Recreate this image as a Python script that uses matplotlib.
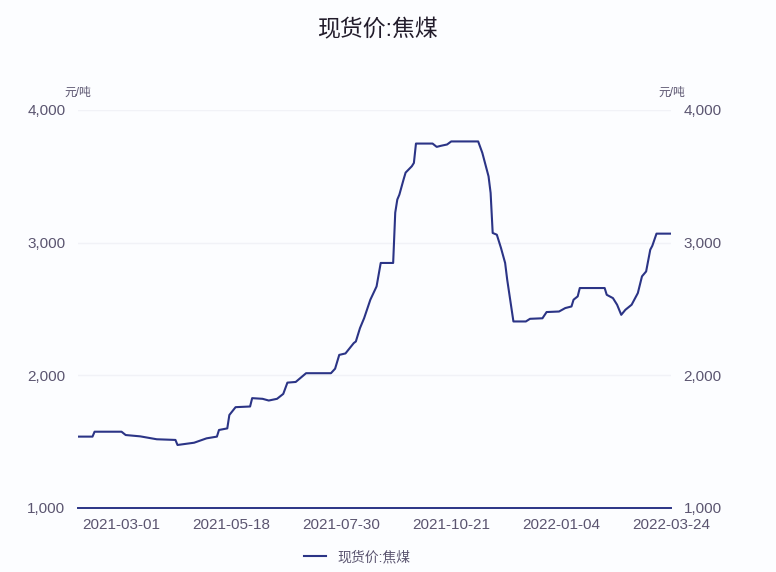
import matplotlib
matplotlib.use("Agg")
import matplotlib.pyplot as plt

plt.rcParams['font.family'] = ['Liberation Sans', 'Noto Sans CJK SC', 'DejaVu Sans']

# 交易日序号与价格（元/吨），按图中折点读取
day = [0, 7, 8, 21, 23, 30, 38, 47, 48, 56, 62, 67, 68, 72, 73, 76, 83, 84, 89, 92,
       96, 99, 101, 105, 110, 122, 124, 126, 129, 133, 134, 136, 138, 141, 144, 146,
       152, 153, 154, 155, 157, 158, 161, 162, 163, 171, 173, 175, 178, 180, 193, 195,
       198, 199, 200, 202, 204, 206, 207, 210, 216, 218, 224, 226, 232, 235, 238, 239,
       241, 242, 254, 255, 258, 260, 262, 264, 267, 270, 272, 274, 276, 277, 279, 286]
price = [1538, 1538, 1575, 1575, 1550, 1540, 1518, 1513, 1475, 1492, 1525, 1538, 1588,
         1600, 1701, 1760, 1765, 1828, 1823, 1810, 1823, 1860, 1945, 1950, 2016, 2016,
         2050, 2154, 2165, 2243, 2255, 2356, 2431, 2570, 2670, 2847, 2847, 3226, 3325,
         3362, 3475, 3528, 3576, 3601, 3747, 3747, 3722, 3730, 3740, 3763, 3763, 3677,
         3500, 3375, 3073, 3060, 2960, 2847, 2721, 2406, 2406, 2426, 2430, 2477, 2481,
         2507, 2519, 2570, 2595, 2658, 2658, 2607, 2582, 2532, 2456, 2494, 2532, 2620,
         2746, 2783, 2947, 2977, 3068, 3068]

tick_pos = [21, 74, 127, 180, 233, 286]
tick_labels = ["2021-03-01", "2021-05-18", "2021-07-30", "2021-10-21", "2022-01-04", "2022-03-24"]
y_ticks = [1000, 2000, 3000, 4000]

line_color = '#2b3486'
text_color = '#5b5570'

fig = plt.figure(figsize=(7.76, 5.72), dpi=100)
fig.patch.set_facecolor('#fcfdff')
ax = fig.add_axes([0.1005, 0.1119, 0.7642, 0.6958])
ax.set_facecolor('#fcfdff')

ax.plot(day, price, color=line_color, linewidth=1.5, label="现货价:焦煤")

ax.set_xlim(0, 286)
ax.set_ylim(1000, 4000)
ax.set_yticks(y_ticks)
ax.set_yticklabels([f"{v:,}" for v in y_ticks])
ax.set_xticks(tick_pos)
ax.set_xticklabels(tick_labels)
ax.tick_params(axis='both', length=0, labelsize=11, colors=text_color)
ax.tick_params(axis='y', pad=9)
ax.tick_params(axis='x', pad=7)
ax.grid(axis='y', color='#f1f2f7', linewidth=1)
for s in ['top', 'right', 'left']:
    ax.spines[s].set_visible(False)
ax.spines['bottom'].set_color(line_color)
ax.spines['bottom'].set_linewidth(1.4)

ax2 = ax.twinx()
ax2.set_ylim(1000, 4000)
ax2.set_yticks(y_ticks)
ax2.set_yticklabels([f"{v:,}" for v in y_ticks])
ax2.tick_params(axis='y', length=0, labelsize=11, colors=text_color, pad=9)
for s in ax2.spines.values():
    s.set_visible(False)

fig.text(0.100, 0.838, "元/吨", fontsize=8.5, color=text_color, ha='center', va='center')
fig.text(0.866, 0.838, "元/吨", fontsize=8.5, color=text_color, ha='center', va='center')

fig.suptitle("现货价:焦煤", x=0.486, y=0.948, fontsize=16.5, color='#221c2b', va='center')

fig.legend(loc='center', bbox_to_anchor=(0.46, 0.026), frameon=False, fontsize=10,
           handlelength=1.6, labelcolor=text_color)

fig.savefig("out.png", dpi=100, facecolor=fig.get_facecolor())
